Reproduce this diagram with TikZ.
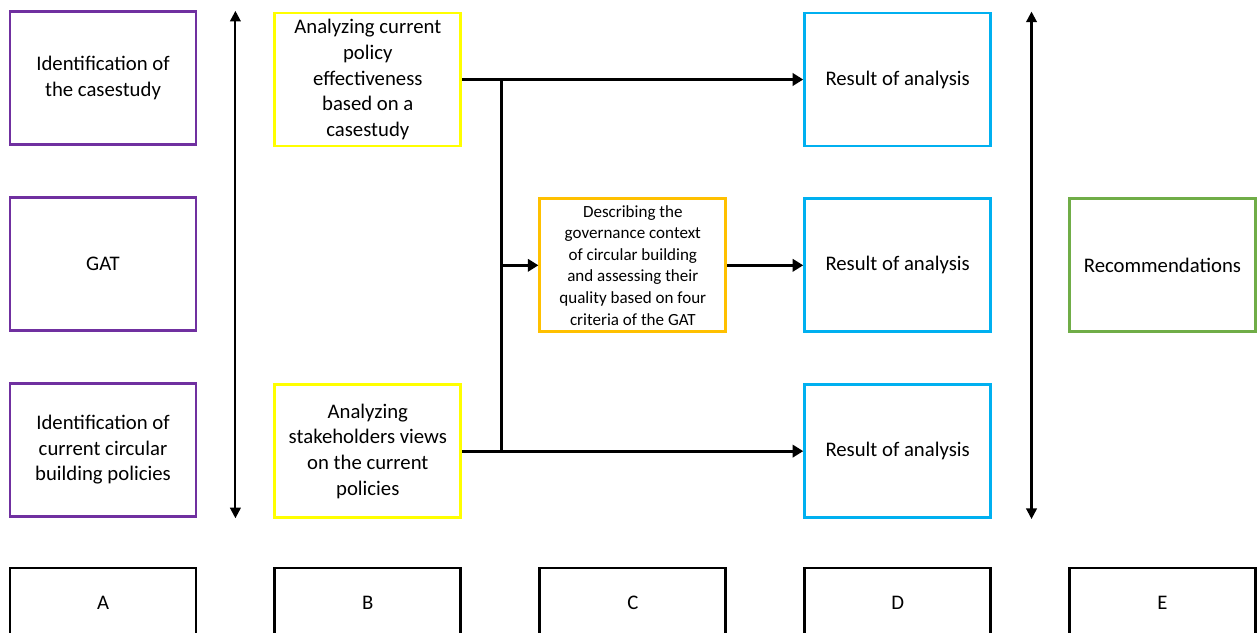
\documentclass[tikz,border=0pt]{standalone}
\usepackage{fontspec}
\setmainfont{Carlito}
\usetikzlibrary{arrows.meta,positioning,calc}
\definecolor{boxpurple}{RGB}{112,48,160}
\definecolor{boxyellow}{RGB}{255,255,0}
\definecolor{boxorange}{RGB}{255,192,0}
\definecolor{boxblue}{RGB}{0,176,240}
\definecolor{boxgreen}{RGB}{112,173,71}

\begin{document}
\begin{tikzpicture}[
  stage/.style={draw, line width=1.6pt, fill=white, minimum width=3.72cm,
                minimum height=2.66cm, align=center, inner sep=2pt,
                font=\fontsize{11.8}{14.6}\selectfont},
  inputbox/.style={stage, draw=boxpurple},
  methodbox/.style={stage, draw=boxyellow},
  govbox/.style={stage, draw=boxorange, font=\fontsize{9.7}{12.3}\selectfont},
  resultbox/.style={stage, draw=boxblue},
  recbox/.style={stage, draw=boxgreen},
  phasebox/.style={stage, draw=black, minimum height=1.4cm},
  arr/.style={-{Triangle[length=6pt,width=7pt]}, line width=1.6pt},
  dblarr/.style={{Triangle[length=6pt,width=6pt]}-{Triangle[length=6pt,width=6pt]}, line width=1.2pt},
  node distance=1.0cm and 1.52cm
]
\useasboundingbox (0,0) rectangle (25.14,-12.64);
\clip (0,0) rectangle (25.14,-12.64);

%% Column A: inputs
\node[inputbox] (a1) at (2.06,-1.56) {Identification of\\the casestudy};
\node[inputbox, below=of a1] (a2) {GAT};
\node[inputbox, below=of a2] (a3) {Identification of\\current circular\\building policies};

%% Column B: analyses
\node[methodbox, right=of a1, yshift=-0.03cm] (b1)
  {Analyzing current\\policy\\effectiveness\\based on a\\casestudy};
\node[methodbox, right=of a3, yshift=-0.03cm] (b3)
  {Analyzing\\stakeholders views\\on the current\\policies};

%% Column C: governance context
\node[govbox, right=6.82cm of a2, yshift=-0.03cm] (c)
  {Describing the\\governance context\\of circular building\\and assessing their\\quality based on four\\criteria of the GAT};

%% Column D: results
\node[resultbox, right=6.82cm of b1] (d1) {Result of analysis};
\node[resultbox, right=of c] (d2) {Result of analysis};
\node[resultbox, right=6.82cm of b3] (d3) {Result of analysis};

%% Column E
\node[recbox, right=of d2] (e) {Recommendations};

%% Phase labels
\node[phasebox, below=0.98cm of a3] (pa) {A};
\node[phasebox] (pb) at (b3 |- pa) {B};
\node[phasebox] (pc) at (c |- pa) {C};
\node[phasebox] (pd) at (d3 |- pa) {D};
\node[phasebox] (pe) at (e |- pa) {E};

%% Connectors
\coordinate (split) at ($(b1.east)+(0.78,0)$);
\draw[arr] (b1.east) -- (d1.west);
\draw[arr] (b3.east) -- (d3.west);
\draw[line width=1.6pt] (split) -- (split |- b3.east);
\draw[arr] (split |- c.west) -- (c.west);
\draw[arr] (c) -- (d2);

%% Double arrows
\coordinate (lefttop) at ($(a1.north east)!.5!(b1.north west)$);
\coordinate (leftbot) at ($(a3.south east)!.5!(b3.south west)$);
\draw[dblarr] (lefttop) -- (leftbot);
\coordinate (righttop) at ($(d1.north east)+(0.79,0)$);
\coordinate (rightbot) at ($(d3.south east)+(0.79,0)$);
\draw[dblarr] (righttop) -- (rightbot);

\end{tikzpicture}
\end{document}
